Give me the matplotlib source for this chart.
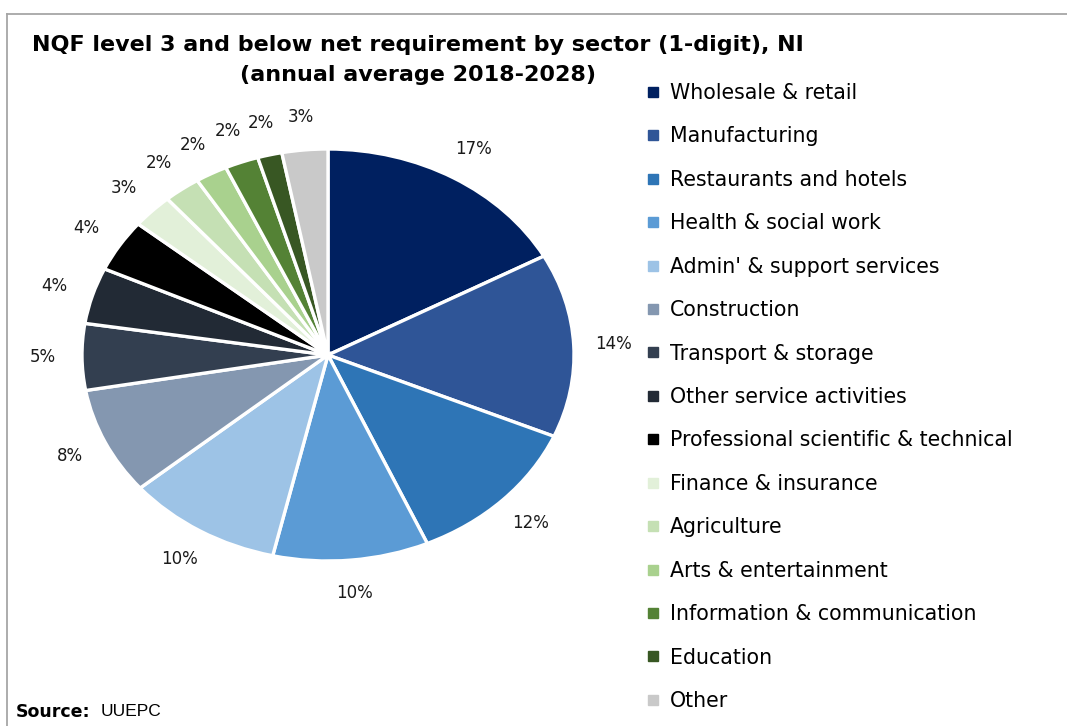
import matplotlib
matplotlib.use("Agg")
from matplotlib import pyplot as plt
from matplotlib.lines import Line2D

# sector shares of the net requirement, % (clockwise from 12 o'clock)
sectors = [
  "Wholesale & retail", "Manufacturing", "Restaurants and hotels",
  "Health & social work", "Admin' & support services", "Construction",
  "Transport & storage", "Other service activities",
  "Professional scientific & technical", "Finance & insurance",
  "Agriculture", "Arts & entertainment", "Information & communication",
  "Education", "Other",
]
shares = [17.0, 14.4, 11.9, 10.2, 10.2, 8.4, 5.2, 4.4, 4.1, 2.7, 2.4, 2.1, 2.2, 1.6, 3.0]
colours = [
  "#002060", "#2F5597", "#2E75B6", "#5B9BD5", "#9DC3E6", "#8497B0",
  "#333F50", "#222A35", "#000000", "#E2F0D9", "#C5E0B4", "#A9D18E",
  "#548235", "#385723", "#C9C9C9",
]

W, H = 1067, 726
fig = plt.figure(figsize=(W / 100, H / 100), dpi=100)

# pie is drawn stretched (wider than tall), so use an axes with auto aspect
ax = fig.add_axes([82 / W, 1 - 561 / H, 492 / W, 412 / H])
wedges, texts, autotexts = ax.pie(
  shares, colors=colours, startangle=90, counterclock=False,
  autopct=lambda p: f"{p:.0f}%", pctdistance=1.16,
  wedgeprops=dict(edgecolor="white", linewidth=2.4),
  textprops=dict(fontsize=12, family="DejaVu Sans", color="#1a1a1a"),
)
ax.set_aspect("auto")
ax.set_xlim(-1, 1)
ax.set_ylim(-1, 1)

fig.text(418 / W, 1 - 45 / H, "NQF level 3 and below net requirement by sector (1-digit), NI",
         ha="center", va="center", fontsize=16, fontweight="bold", family="DejaVu Sans")
fig.text(418 / W, 1 - 75 / H, "(annual average 2018-2028)",
         ha="center", va="center", fontsize=16, fontweight="bold", family="DejaVu Sans")

handles = [Line2D([], [], marker="s", linestyle="none", markersize=7,
                  markerfacecolor=c, markeredgecolor=c) for c in colours]
fig.legend(handles, sectors, loc="upper left", bbox_to_anchor=(645 / W, 1 - 83 / H),
           frameon=False, handlelength=0.75, handletextpad=0.45, labelspacing=1.14,
           borderaxespad=0, borderpad=0,
           prop=dict(family="DejaVu Sans", size=14.8))

fig.text(16 / W, 1 - 712 / H, "Source:", ha="left", va="center",
         fontsize=12.5, fontweight="bold", family="DejaVu Sans")
fig.text(101 / W, 1 - 712 / H, "UUEPC", ha="left", va="center",
         fontsize=12.5, family="Liberation Sans")

# chart area border (top and left edges only are in view)
fig.add_artist(Line2D([7 / W, 1], [1 - 14 / H, 1 - 14 / H], color="#A6A6A6", linewidth=1.3))
fig.add_artist(Line2D([7 / W, 7 / W], [1 - 14 / H, 0], color="#A6A6A6", linewidth=1.3))

fig.savefig("out.png", dpi=100)
